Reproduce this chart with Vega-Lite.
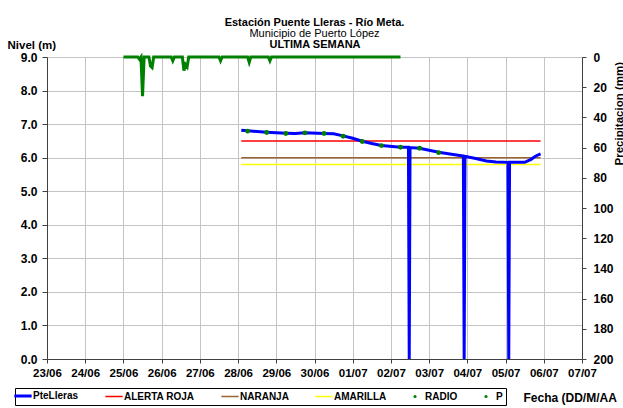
{
  "$schema": "https://vega.github.io/schema/vega-lite/v6.json",
  "width": 535,
  "height": 302,
  "autosize": {"type": "none"},
  "padding": {"left": 47, "top": 57, "right": 41, "bottom": 49},
  "background": "white",
  "config": {
    "font": "Liberation Sans",
    "view": {"stroke": null},
    "axis": {
      "labelFont": "Liberation Sans", "labelFontWeight": "bold", "labelFontSize": 11.5, "labelColor": "#000",
      "titleFont": "Liberation Sans", "titleFontWeight": "bold", "titleFontSize": 11.5, "titleColor": "#000",
      "gridColor": "#c4c4c4", "gridOpacity": 1, "gridWidth": 1,
      "domainColor": "#404040", "tickColor": "#404040", "domainWidth": 1, "tickSize": 4
    },
    "legend": {
      "orient": "none", "legendX": -32, "legendY": 331, "direction": "horizontal", "title": null,
      "padding": 3, "strokeColor": "#000", "fillColor": "#fff",
      "labelFont": "Liberation Sans", "labelFontSize": 10, "labelFontWeight": "bold", "labelColor": "#000",
      "symbolType": "stroke", "symbolSize": 300, "symbolStrokeWidth": 1.5, "labelOffset": 5, "columnPadding": 23
    }
  },
  "title": {
    "text": "Estación Puente Lleras - Río Meta.",
    "subtitle": "Municipio de Puerto López",
    "font": "Liberation Sans", "subtitleFont": "Liberation Sans",
    "fontSize": 11, "fontWeight": "bold", "color": "#000",
    "subtitleFontSize": 11, "subtitleFontWeight": "normal", "subtitleColor": "#000",
    "anchor": "middle", "offset": -1, "subtitlePadding": 0.5
  },
  "datasets": {
    "nivel": [
      {"s": "PteLleras", "t": "2021-06-28T02:00", "v": 6.82},
      {"s": "PteLleras", "t": "2021-06-28T06:00", "v": 6.80},
      {"s": "PteLleras", "t": "2021-06-28T18:00", "v": 6.76},
      {"s": "PteLleras", "t": "2021-06-29T06:00", "v": 6.73},
      {"s": "PteLleras", "t": "2021-06-29T12:00", "v": 6.72},
      {"s": "PteLleras", "t": "2021-06-29T18:00", "v": 6.74},
      {"s": "PteLleras", "t": "2021-06-30T06:00", "v": 6.72},
      {"s": "PteLleras", "t": "2021-06-30T12:00", "v": 6.71},
      {"s": "PteLleras", "t": "2021-06-30T18:00", "v": 6.65},
      {"s": "PteLleras", "t": "2021-07-01T00:00", "v": 6.58},
      {"s": "PteLleras", "t": "2021-07-01T06:00", "v": 6.49},
      {"s": "PteLleras", "t": "2021-07-01T12:00", "v": 6.42},
      {"s": "PteLleras", "t": "2021-07-01T18:00", "v": 6.36},
      {"s": "PteLleras", "t": "2021-07-02T06:00", "v": 6.31},
      {"s": "PteLleras", "t": "2021-07-02T11:00", "v": 6.31},
      {"s": "PteLleras", "t": "2021-07-02T11:30", "v": 0},
      {"s": "PteLleras", "t": "2021-07-02T12:00", "v": 6.30},
      {"s": "PteLleras", "t": "2021-07-02T18:00", "v": 6.28},
      {"s": "PteLleras", "t": "2021-07-03T06:00", "v": 6.16},
      {"s": "PteLleras", "t": "2021-07-03T12:00", "v": 6.12},
      {"s": "PteLleras", "t": "2021-07-03T21:30", "v": 6.05},
      {"s": "PteLleras", "t": "2021-07-03T22:00", "v": 0},
      {"s": "PteLleras", "t": "2021-07-03T22:30", "v": 6.04},
      {"s": "PteLleras", "t": "2021-07-04T06:00", "v": 5.97},
      {"s": "PteLleras", "t": "2021-07-04T12:00", "v": 5.90},
      {"s": "PteLleras", "t": "2021-07-04T18:00", "v": 5.87},
      {"s": "PteLleras", "t": "2021-07-05T01:30", "v": 5.86},
      {"s": "PteLleras", "t": "2021-07-05T02:00", "v": 0},
      {"s": "PteLleras", "t": "2021-07-05T02:30", "v": 5.86},
      {"s": "PteLleras", "t": "2021-07-05T08:00", "v": 5.86},
      {"s": "PteLleras", "t": "2021-07-05T12:00", "v": 5.86},
      {"s": "PteLleras", "t": "2021-07-05T16:00", "v": 5.95},
      {"s": "PteLleras", "t": "2021-07-05T19:00", "v": 6.05},
      {"s": "PteLleras", "t": "2021-07-05T22:00", "v": 6.11}
    ],
    "umbral": [
      {"s": "ALERTA ROJA", "t": "2021-06-28T02:00", "v": 6.5},
      {"s": "ALERTA ROJA", "t": "2021-07-05T22:00", "v": 6.5},
      {"s": "NARANJA", "t": "2021-06-28T02:00", "v": 6.0},
      {"s": "NARANJA", "t": "2021-07-05T22:00", "v": 6.0},
      {"s": "AMARILLA", "t": "2021-06-28T02:00", "v": 5.8},
      {"s": "AMARILLA", "t": "2021-07-05T22:00", "v": 5.8}
    ],
    "radio": [
      {"s": "RADIO", "t": "2021-06-28T06:00", "v": 6.79},
      {"s": "RADIO", "t": "2021-06-28T18:00", "v": 6.75},
      {"s": "RADIO", "t": "2021-06-29T06:00", "v": 6.72},
      {"s": "RADIO", "t": "2021-06-29T18:00", "v": 6.74},
      {"s": "RADIO", "t": "2021-06-30T06:00", "v": 6.72},
      {"s": "RADIO", "t": "2021-06-30T18:00", "v": 6.64},
      {"s": "RADIO", "t": "2021-07-01T06:00", "v": 6.48},
      {"s": "RADIO", "t": "2021-07-01T18:00", "v": 6.36},
      {"s": "RADIO", "t": "2021-07-02T06:00", "v": 6.31},
      {"s": "RADIO", "t": "2021-07-02T18:00", "v": 6.28},
      {"s": "RADIO", "t": "2021-07-03T06:00", "v": 6.15}
    ],
    "precip": [
      {"s": "P", "t": "2021-06-25T00:00", "p": 0},
      {"s": "P", "t": "2021-06-25T09:00", "p": 0},
      {"s": "P", "t": "2021-06-25T10:00", "p": 1.5},
      {"s": "P", "t": "2021-06-25T11:00", "p": 0},
      {"s": "P", "t": "2021-06-25T12:00", "p": 26},
      {"s": "P", "t": "2021-06-25T13:00", "p": 0},
      {"s": "P", "t": "2021-06-25T16:00", "p": 0},
      {"s": "P", "t": "2021-06-25T17:00", "p": 6},
      {"s": "P", "t": "2021-06-25T18:00", "p": 7},
      {"s": "P", "t": "2021-06-25T19:00", "p": 0},
      {"s": "P", "t": "2021-06-26T06:00", "p": 0},
      {"s": "P", "t": "2021-06-26T07:00", "p": 2.5},
      {"s": "P", "t": "2021-06-26T08:00", "p": 0},
      {"s": "P", "t": "2021-06-26T13:00", "p": 0},
      {"s": "P", "t": "2021-06-26T14:00", "p": 9},
      {"s": "P", "t": "2021-06-26T15:00", "p": 5},
      {"s": "P", "t": "2021-06-26T16:00", "p": 6.5},
      {"s": "P", "t": "2021-06-26T17:00", "p": 0},
      {"s": "P", "t": "2021-06-27T12:00", "p": 0},
      {"s": "P", "t": "2021-06-27T13:00", "p": 2.5},
      {"s": "P", "t": "2021-06-27T14:00", "p": 0},
      {"s": "P", "t": "2021-06-28T06:00", "p": 0},
      {"s": "P", "t": "2021-06-28T07:00", "p": 3.5},
      {"s": "P", "t": "2021-06-28T08:00", "p": 0},
      {"s": "P", "t": "2021-06-28T19:00", "p": 0},
      {"s": "P", "t": "2021-06-28T20:00", "p": 2.5},
      {"s": "P", "t": "2021-06-28T21:00", "p": 0},
      {"s": "P", "t": "2021-07-02T06:00", "p": 0}
    ]
  },
  "resolve": {"scale": {"y": "independent"}, "axis": {"x": "independent"}},
  "layer": [
    {
      "data": {"name": "umbral"},
      "mark": {"type": "line", "strokeWidth": 1.5},
      "encoding": {
        "x": {"field": "t", "type": "temporal",
          "scale": {"domain": [{"year": 2021, "month": 6, "date": 23}, {"year": 2021, "month": 7, "date": 7}], "nice": false},
          "axis": {"orient": "top", "title": "ULTIMA SEMANA", "labels": false, "ticks": false, "domain": false, "grid": false, "titlePadding": 8, "titleFontSize": 11}},
        "y": {"field": "v", "type": "quantitative", "scale": {"domain": [0, 9], "nice": false, "zero": false}, "axis": null},
        "color": {"field": "s", "type": "nominal",
          "scale": {"domain": ["PteLleras", "ALERTA ROJA", "NARANJA", "AMARILLA", "RADIO", "P"], "range": ["#0000ff", "#ff0000", "#996633", "#ffff00", "#008000", "#008000"]},
          "legend": {
            "encode": {"symbols": {"update": {
              "shape": {"signal": "datum.value === 'RADIO' || datum.value === 'P' ? 'circle' : 'stroke'"},
              "size": {"signal": "datum.value === 'RADIO' || datum.value === 'P' ? 10 : 300"},
              "strokeWidth": {"signal": "datum.value === 'PteLleras' ? 3 : (datum.value === 'RADIO' || datum.value === 'P' ? 0 : 1.5)"},
              "fill": {"signal": "datum.value === 'RADIO' || datum.value === 'P' ? '#008000' : 'transparent'"},
              "stroke": {"signal": "scale('color', datum.value)"},
              "opacity": {"value": 1}
            }}}
          }}
      }
    },
    {
      "data": {"name": "nivel"},
      "mark": {"type": "line", "strokeWidth": 3},
      "encoding": {
        "x": {"field": "t", "type": "temporal",
          "scale": {"domain": [{"year": 2021, "month": 6, "date": 23}, {"year": 2021, "month": 7, "date": 7}], "nice": false},
          "axis": {"format": "%d/%m", "tickCount": {"interval": "day", "step": 1}, "labelFlush": false, "labelOverlap": false, "grid": true,
            "labelPadding": 4, "title": "Fecha (DD/M/AA", "titleX": 476, "titleY": 38, "titleAlign": "left", "titleAnchor": "start", "titleBaseline": "middle", "titleFontSize": 12}},
        "y": {"field": "v", "type": "quantitative", "scale": {"domain": [0, 9], "nice": false, "zero": false},
          "axis": {"values": [0, 1, 2, 3, 4, 5, 6, 7, 8, 9], "format": ".1f", "grid": true, "labelFontSize": 12, "tickSize": 5, "labelPadding": 5,
            "title": "Nivel (m)", "titleAngle": 0, "titleAlign": "left", "titleBaseline": "middle", "titleX": -40, "titleY": -12, "titleFontSize": 11.5}},
        "color": {"field": "s", "type": "nominal",
          "scale": {"domain": ["PteLleras", "ALERTA ROJA", "NARANJA", "AMARILLA", "RADIO", "P"], "range": ["#0000ff", "#ff0000", "#996633", "#ffff00", "#008000", "#008000"]}}
      }
    },
    {
      "data": {"name": "radio"},
      "mark": {"type": "point", "filled": true, "size": 24, "opacity": 1},
      "encoding": {
        "x": {"field": "t", "type": "temporal",
          "scale": {"domain": [{"year": 2021, "month": 6, "date": 23}, {"year": 2021, "month": 7, "date": 7}], "nice": false}, "axis": null},
        "y": {"field": "v", "type": "quantitative", "scale": {"domain": [0, 9], "nice": false, "zero": false}, "axis": null},
        "color": {"field": "s", "type": "nominal",
          "scale": {"domain": ["PteLleras", "ALERTA ROJA", "NARANJA", "AMARILLA", "RADIO", "P"], "range": ["#0000ff", "#ff0000", "#996633", "#ffff00", "#008000", "#008000"]}}
      }
    },
    {
      "data": {"name": "precip"},
      "mark": {"type": "line", "strokeWidth": 3},
      "encoding": {
        "x": {"field": "t", "type": "temporal",
          "scale": {"domain": [{"year": 2021, "month": 6, "date": 23}, {"year": 2021, "month": 7, "date": 7}], "nice": false}, "axis": null},
        "y": {"field": "p", "type": "quantitative", "scale": {"domain": [0, 200], "reverse": true, "nice": false},
          "axis": {"orient": "right", "values": [0, 20, 40, 60, 80, 100, 120, 140, 160, 180, 200], "grid": false, "labelFontSize": 12, "labelAlign": "left", "tickSize": 4, "labelPadding": 7,
            "title": "Precipitacion (mm)", "titleAngle": 270, "titleAlign": "left", "titleBaseline": "middle", "titleX": 37, "titleY": 108, "titleFontSize": 11.5}},
        "color": {"field": "s", "type": "nominal",
          "scale": {"domain": ["PteLleras", "ALERTA ROJA", "NARANJA", "AMARILLA", "RADIO", "P"], "range": ["#0000ff", "#ff0000", "#996633", "#ffff00", "#008000", "#008000"]}}
      }
    }
  ]
}
